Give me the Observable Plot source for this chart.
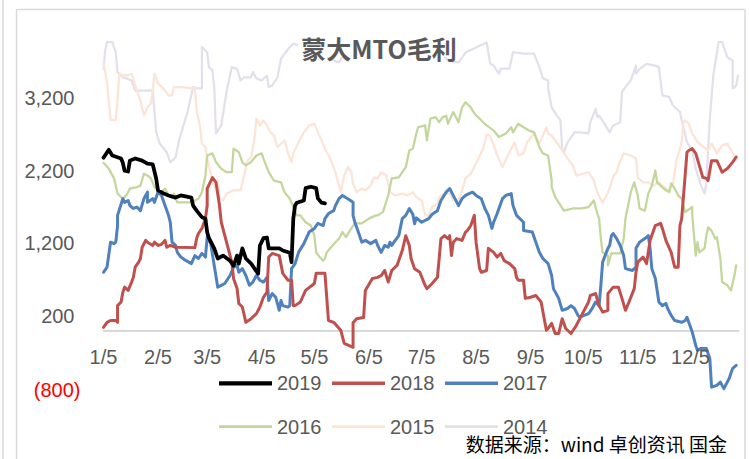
<!DOCTYPE html>
<html><head><meta charset="utf-8">
<script src="https://cdn.jsdelivr.net/npm/d3@7"></script>
<script src="https://cdn.jsdelivr.net/npm/@observablehq/plot@0.6"></script>
<style>body{margin:0;background:#fff}svg{display:block}</style>
</head><body><div id="chart"></div>
<script>
const years = ["2019","2018","2017","2016","2015","2014"];
const colors = ["#000000","#C0504D","#4F81BD","#C3D69B","#FCE4D6","#E4DFEC"];
const widths = [3.75,3,3,2.25,2.25,2.25];
const yTicks = [3200,2200,1200,200];
const negTicks = [-800];
const xTickLabels = ["1/5","2/5","3/5","4/5","5/5","6/5","7/5","8/5","9/5","10/5","11/5","12/5"];
const titleText = ["蒙大","MTO","毛利"];
const sourceText = "数据来源：wind 卓创资讯 国金";

// [day offset from Jan 5, value]
const s2019 = [[0,2390],[3,2500],[5,2420],[10,2380],[11,2320],[12,2210],[14,2200],[15,2350],[18,2380],[22,2350],[25,2310],[28,2300],[30,2100],[31,1940],[34,1900],[37,1870],[41,1840],[44,1870],[50,1840],[51,1730],[53,1660],[56,1570],[58,1550],[59,1360],[60,1280],[63,1140],[65,1000],[68,1040],[72,970],[74,900],[76,1040],[77,930],[79,1140],[81,1000],[84,930],[88,790],[89,1180],[91,1280],[93,1290],[94,1140],[100,1140],[102,1110],[106,1080],[107,950],[108,1550],[109,1730],[110,1770],[114,1800],[115,1970],[118,1990],[121,1970],[122,1830],[124,1770],[126,1760]];
const s2018 = [[0,50],[2,120],[4,145],[7,145],[8,120],[8,350],[10,400],[11,535],[12,605],[14,560],[16,675],[17,740],[18,880],[20,950],[21,1000],[22,1155],[24,1250],[25,1225],[28,1180],[29,1225],[31,1180],[33,1195],[35,1250],[36,1155],[38,1180],[41,1155],[52,1150],[53,1275],[54,1345],[56,1415],[58,1550],[59,1730],[59,1965],[62,2115],[64,2050],[66,1730],[67,1500],[70,1225],[73,950],[74,725],[76,585],[77,380],[79,330],[81,120],[84,170],[87,240],[89,330],[91,465],[93,535],[94,1020],[96,1070],[100,1040],[102,795],[105,700],[107,700],[108,350],[109,350],[112,400],[115,560],[120,655],[121,795],[126,795],[128,145],[131,120],[135,10],[137,-170],[142,-225],[142,115],[144,170],[148,185],[149,560],[153,725],[156,740],[158,765],[160,835],[162,675],[164,835],[167,905],[170,1110],[172,1315],[174,1180],[175,1000],[177,860],[180,810],[183,630],[184,585],[187,655],[190,740],[191,1000],[192,1275],[194,1315],[196,1275],[197,1315],[198,1040],[199,1225],[201,1275],[204,1250],[206,1365],[207,1385],[209,1455],[211,1595],[212,1225],[214,860],[215,810],[218,835],[219,1140],[222,1085],[224,1020],[226,1070],[228,970],[231,930],[234,860],[235,740],[236,700],[239,700],[240,450],[243,465],[246,490],[249,400],[252,10],[253,35],[255,105],[257,-35],[259,-35],[261,170],[263,35],[266,-35],[269,75],[272,215],[276,400],[277,490],[280,515],[282,350],[284,260],[287,285],[287,515],[290,605],[293,605],[295,450],[297,285],[299,400],[302,585],[303,810],[304,950],[307,1020],[309,930],[311,1250],[314,1455],[317,1485],[318,1415],[320,1250],[323,1085],[325,880],[327,880],[328,1455],[329,1550],[332,2465],[333,2490],[335,2515],[337,2450],[339,2285],[341,2120],[343,2105],[344,2075],[346,2350],[349,2350],[352,2190],[355,2240],[358,2330],[360,2400]];
const s2017 = [[0,810],[2,880],[4,1225],[6,1205],[7,1225],[8,1455],[8,1595],[11,1825],[12,1775],[14,1800],[15,1730],[17,1690],[19,1710],[21,1660],[23,1825],[25,1915],[25,1775],[28,1825],[29,1775],[31,1915],[33,1870],[35,1730],[37,1595],[38,1500],[39,1225],[41,1180],[42,1085],[44,1020],[47,970],[50,930],[52,1040],[54,1000],[56,1070],[58,1020],[59,1295],[61,1205],[63,905],[65,605],[67,630],[69,655],[72,765],[74,880],[76,905],[77,810],[79,860],[81,765],[83,630],[85,675],[87,765],[89,700],[91,675],[93,740],[94,420],[96,515],[98,465],[100,285],[101,420],[102,350],[105,330],[106,350],[107,860],[109,930],[111,1085],[114,1205],[117,1365],[120,1415],[122,1485],[125,1455],[126,1550],[128,1620],[131,1660],[132,1730],[134,1825],[136,1870],[139,1825],[142,1775],[142,1595],[143,1500],[145,1365],[147,1225],[149,1250],[152,1205],[155,1250],[156,1180],[158,1085],[160,1180],[162,1155],[163,1225],[164,1180],[166,1250],[168,1315],[170,1550],[172,1595],[174,1690],[176,1610],[177,1480],[178,1560],[181,1500],[185,1550],[187,1610],[190,1660],[192,1800],[195,1915],[197,1965],[199,1870],[202,1730],[204,1825],[206,1870],[208,1895],[210,1915],[212,1870],[215,1825],[217,1690],[219,1595],[221,1415],[222,1500],[224,1620],[227,1825],[229,1870],[232,1895],[233,1730],[235,1595],[239,1500],[239,1385],[244,1365],[246,1225],[248,1085],[250,1000],[253,930],[255,765],[256,585],[259,450],[261,285],[264,310],[266,350],[268,310],[270,215],[271,190],[276,240],[278,310],[280,400],[282,350],[283,630],[284,950],[287,1140],[288,1180],[289,1315],[290,1345],[292,1275],[294,1180],[296,1040],[297,860],[301,835],[303,880],[303,1140],[305,1225],[308,1275],[310,1315],[311,1140],[312,860],[314,725],[316,400],[318,350],[320,380],[321,310],[323,215],[325,145],[329,120],[331,145],[332,190],[335,-15],[337,-200],[338,-270],[340,-240],[343,-240],[345,-380],[346,-775],[349,-750],[351,-705],[353,-795],[356,-655],[358,-515],[360,-475]];
const s2016 = [[0,2320],[3,2240],[6,2105],[8,1895],[11,1825],[13,1870],[15,1965],[19,1985],[21,2005],[23,2170],[25,2145],[27,2105],[29,1985],[31,1940],[33,1915],[35,1965],[37,1870],[39,1845],[40,1895],[42,1775],[50,1775],[54,1825],[56,1915],[58,2145],[59,2420],[62,2450],[64,2330],[67,2240],[70,2190],[73,2190],[74,2515],[77,2465],[79,2330],[81,2285],[84,2330],[87,2420],[90,2450],[91,2380],[94,2190],[97,2075],[101,2050],[103,1915],[106,1825],[108,1710],[110,1595],[112,1595],[115,1500],[118,1455],[120,1315],[121,1085],[123,1020],[125,970],[126,1000],[127,1085],[129,1140],[132,1225],[134,1275],[136,1365],[138,1295],[141,1415],[143,1485],[147,1485],[151,1550],[155,1595],[156,1595],[159,1640],[162,1870],[164,2105],[168,2120],[172,2260],[174,2490],[176,2515],[178,2725],[179,2810],[183,2835],[184,2630],[186,2930],[189,2950],[191,2880],[193,2950],[195,2970],[196,2860],[199,3020],[202,2880],[204,3085],[206,3155],[209,3085],[211,3000],[214,2930],[216,2880],[218,2835],[222,2765],[225,2675],[229,2725],[232,2810],[233,2740],[236,2860],[239,2810],[242,2765],[245,2740],[248,2535],[250,2450],[253,2420],[255,2075],[255,1985],[257,1845],[262,1660],[267,1690],[272,1690],[276,1710],[279,1800],[281,1620],[282,1550],[283,1275],[284,1085],[287,1040],[287,905],[289,1070],[294,1070],[296,1275],[297,1550],[300,1915],[302,2050],[304,1870],[305,1690],[308,1660],[310,1895],[312,2005],[314,2215],[315,2050],[317,2005],[320,1940],[322,1915],[323,2035],[325,1965],[327,1870],[329,1825],[331,1640],[335,1710],[335,1595],[336,1315],[337,1040],[338,1225],[339,1085],[342,1140],[343,1315],[344,1430],[346,1385],[348,1275],[349,1295],[351,1000],[352,675],[355,630],[357,560],[359,765],[360,905]];
const s2015 = [[0,3700],[2,3430],[4,2915],[7,2905],[8,3180],[9,3550],[11,3525],[14,3525],[16,3550],[18,3385],[21,3180],[23,2970],[25,3085],[27,3140],[28,3315],[29,3550],[31,3415],[34,3345],[37,3250],[39,3250],[40,3365],[44,3365],[52,3345],[53,3040],[55,2810],[56,2585],[58,2535],[59,2395],[61,2170],[63,1985],[65,2075],[66,1845],[68,1800],[70,1895],[74,1940],[78,1940],[82,2350],[84,2395],[86,2675],[87,2930],[89,2835],[91,2905],[93,2835],[95,2740],[97,2695],[99,2535],[103,2630],[105,2450],[107,2330],[108,2450],[111,2605],[114,2740],[117,2835],[120,2860],[122,2740],[124,2630],[126,2515],[129,2380],[132,2190],[134,2005],[135,1915],[137,2145],[139,2260],[141,2190],[142,2035],[144,1915],[147,1965],[149,1940],[152,2005],[154,2120],[156,2105],[158,2190],[161,2145],[163,1915],[166,1870],[170,1895],[173,1870],[176,1915],[178,1845],[181,1800],[183,1605],[185,1595],[187,1710],[190,1760],[191,1845],[194,1895],[197,1895],[199,1800],[202,1800],[204,1940],[206,2105],[209,2170],[212,2310],[216,2515],[218,2710],[220,2695],[222,2560],[224,2420],[227,2260],[230,2420],[232,2515],[234,2600],[236,2420],[239,2450],[241,2600],[245,2725],[248,2585],[250,2695],[252,2805],[253,2725],[255,2695],[257,2630],[261,2490],[264,2380],[267,2285],[269,2145],[276,2190],[279,2075],[281,1910],[284,1770],[287,1910],[288,1965],[290,2130],[292,2190],[293,2285],[296,2450],[300,2420],[303,2380],[304,2115],[307,2050],[310,2050],[313,2005],[316,2050],[318,2005],[321,1940],[324,2020],[326,2350],[329,2605],[330,2875],[331,2905],[333,2860],[335,2725],[338,2605],[341,2545],[344,2490],[346,2585],[349,2450],[352,2560],[355,2585],[356,2535],[358,2460],[360,2350]];
const s2014 = [[0,3620],[1,3870],[2,3985],[5,3985],[7,3845],[8,3570],[11,3500],[13,3485],[16,3455],[18,3315],[28,3315],[30,2740],[32,2585],[36,2465],[38,2325],[41,2395],[43,2630],[48,3040],[51,3365],[54,3345],[56,3345],[56,3915],[59,3845],[60,3640],[62,3595],[63,3365],[64,2725],[67,2835],[70,3295],[73,3640],[76,3615],[78,3455],[80,3500],[84,3500],[85,3570],[87,3485],[90,3455],[93,3525],[94,3365],[96,3385],[99,3500],[101,3755],[103,3825],[106,3915],[108,3960],[111,3940],[114,3940],[118,3960],[122,3870],[131,3730],[134,3705],[138,3870],[157,3940],[180,3940],[191,3870],[196,3730],[202,3705],[206,3840],[218,3980],[220,3690],[222,3660],[225,3550],[226,3620],[231,3620],[233,3845],[239,3825],[245,3825],[248,3640],[250,3485],[253,3455],[253,3345],[255,3085],[258,2970],[260,2905],[261,2515],[262,2465],[264,2600],[268,2740],[271,2740],[276,2725],[277,2880],[280,3065],[281,2950],[282,2970],[285,2860],[288,2740],[290,2835],[294,2880],[295,3295],[297,3365],[300,3455],[303,3660],[303,3550],[305,3615],[309,3685],[314,3660],[316,3640],[318,3250],[322,3225],[324,3110],[328,3020],[329,2905],[332,2605],[335,2490],[337,2240],[340,2005],[342,1895],[343,2050],[345,2930],[347,3525],[350,3985],[352,3985],[355,3775],[358,3730],[358,3345],[360,3385],[361,3525]];

const seriesData = [s2019, s2018, s2017, s2016, s2015, s2014];
const base = new Date(2019, 0, 5);
const rowsOf = arr => arr.map(([d, v]) => ({date: d3.timeDay.offset(base, d), value: v}));
const xTicks = d3.range(12).map(m => new Date(2019, m, 5));
const font = "Liberation Sans, Arial, sans-serif";

const lineMarks = [];
for (let i = years.length - 1; i >= 0; i--) {
  lineMarks.push(Plot.line(rowsOf(seriesData[i]), {
    x: "date", y: "value", stroke: colors[i], strokeWidth: widths[i],
    strokeLinejoin: "round", strokeLinecap: "round"
  }));
}

const plot = Plot.plot({
  width: 749, height: 459,
  marginLeft: 103, marginRight: 9.8, marginTop: 30.35, marginBottom: 70.5,
  style: {fontFamily: font, background: "#fff"},
  x: {type: "time", domain: [base, new Date(2020, 0, 2)], axis: null},
  y: {domain: [-800, 4140], axis: null},
  marks: [
    Plot.ruleY([0], {stroke: "#D9D9D9", strokeWidth: 2}),
    ...lineMarks,
    Plot.text(yTicks, {y: d => d, frameAnchor: "left", dx: -29, textAnchor: "end", text: d => d3.format(",")(d), fill: "#595959", fontSize: 20}),
    Plot.text(negTicks, {y: d => d, frameAnchor: "left", dx: -23, dy: 2, textAnchor: "end", text: d => `(${d3.format(",")(Math.abs(d))})`, fill: "#FF0000", fontSize: 20}),
    Plot.text(xTicks, {x: d => d, frameAnchor: "bottom", dy: -25, text: (d, i) => xTickLabels[i], fill: "#595959", fontSize: 20})
  ]
});
document.getElementById("chart").appendChild(plot);

const svg = d3.select(plot);
// frame
const fr = svg.append("g").attr("stroke", "#D9D9D9").attr("stroke-width", 1.5).attr("fill", "none");
fr.append("line").attr("x1", 3).attr("x2", 3).attr("y1", 0).attr("y2", 459);
fr.append("line").attr("x1", 16.5).attr("x2", 16.5).attr("y1", 9.5).attr("y2", 459);
fr.append("line").attr("x1", 16.5).attr("x2", 745).attr("y1", 9.5).attr("y2", 9.5);
fr.append("line").attr("x1", 745).attr("x2", 745).attr("y1", 9.5).attr("y2", 459);
// title
const tg = svg.append("g");
tg.append("rect").attr("x", 298).attr("y", 32).attr("width", 164).attr("height", 25).attr("fill", "#fff");
const tt = tg.append("text").attr("x", 379).attr("y", 47.5).attr("text-anchor", "middle")
  .attr("dominant-baseline", "central").attr("fill", "#595959").attr("font-size", 25)
  .attr("font-weight", "bold").attr("font-family", "Noto Sans CJK SC, Liberation Sans, sans-serif");
titleText.forEach(t => tt.append("tspan").text(t));
// legend
const legX = [219, 332, 445];
const legY = [383.3, 426.5];
years.forEach((yr, i) => {
  const col = i % 3, row = Math.floor(i / 3);
  const g = svg.append("g");
  g.append("line").attr("x1", legX[col]).attr("x2", legX[col] + 53).attr("y1", legY[row]).attr("y2", legY[row])
    .attr("stroke", colors[i]).attr("stroke-width", widths[i] + 0.5);
  g.append("text").attr("x", legX[col] + 58).attr("y", legY[row]).attr("dominant-baseline", "central")
    .attr("text-anchor", "start")
    .attr("fill", "#595959").attr("font-size", 20).attr("font-family", font).text(yr);
});
// source
svg.append("text").attr("x", 727).attr("y", 443.5).attr("dominant-baseline", "central")
  .attr("text-anchor", "end")
  .attr("fill", "#000").attr("font-size", 19).attr("font-family", "Noto Sans CJK SC, sans-serif").text(sourceText);
</script>
</body></html>
